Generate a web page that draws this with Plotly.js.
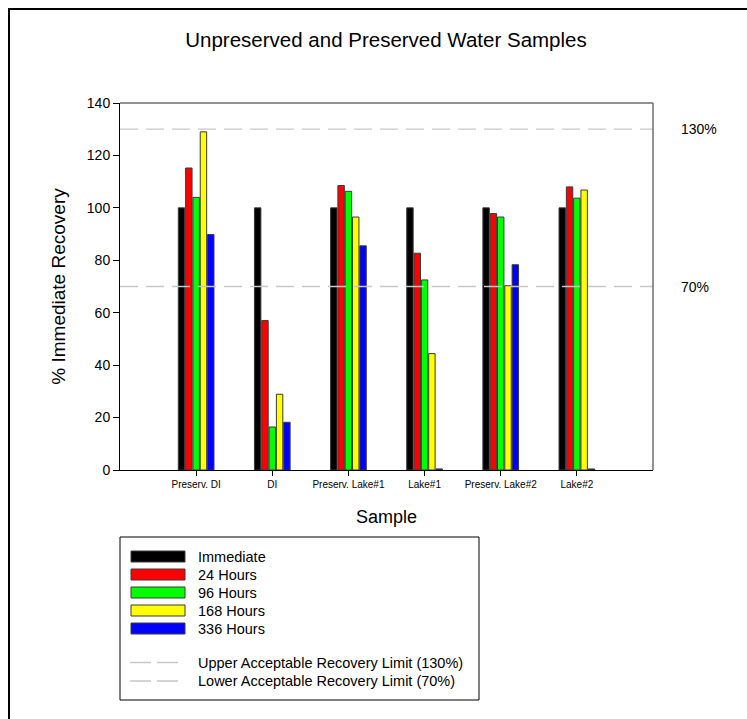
<!DOCTYPE html>
<html>
<head>
<meta charset="utf-8">
<script src="https://cdn.plot.ly/plotly-3.0.1.min.js"></script>
<style>
  html, body { margin: 0; padding: 0; background: #fff; }
  #wrap { position: relative; width: 747px; height: 719px; }
  #chart { width: 747px; height: 719px; }
  #frame { position: absolute; left: 8px; top: 8px; width: 760px; height: 720px;
           border-left: 2px solid #000; border-top: 2px solid #000; pointer-events: none; }
</style>
</head>
<body>
<div id="wrap">
  <div id="chart"></div>
  <div id="frame"></div>
</div>
<script>
// ---- data ----
const categories = ["Preserv. DI", "DI", "Preserv. Lake#1", "Lake#1", "Preserv. Lake#2", "Lake#2"];
const seriesNames = ["Immediate", "24 Hours", "96 Hours", "168 Hours", "336 Hours"];
const immediate = [100, 100, 100, 100, 100, 100];
const hours24   = [115.2, 57.0, 108.5, 82.7, 97.8, 108.0];
const hours96   = [104.0, 16.4, 106.3, 72.5, 96.5, 103.7];
const hours168  = [129.0, 28.9, 96.5, 44.4, 70.3, 106.8];
const hours336  = [89.8, 18.2, 85.5, 0.4, 78.3, 0.4];
const limitValues = [130, 70];
const limitLabels = ["130%", "70%"];
const limitNames = ["Upper Acceptable Recovery Limit (130%)", "Lower Acceptable Recovery Limit (70%)"];
const yTicks = [0, 20, 40, 60, 80, 100, 120, 140];

// ---- styles ----
const colors = ["#000000", "#ff0000", "#00ff00", "#ffff00", "#0000ff"];
const seriesValues = [immediate, hours24, hours96, hours168, hours336];
const FONT = "Liberation Sans, Arial, sans-serif";

// plot area in pixels
const W = 747, H = 719;
const L = 120, R = 653, T = 103, B = 470;
const px = x => (x - L) / (R - L);
const py = y => (B - y) / (B - T);

const traces = seriesNames.map((name, i) => ({
  type: "bar",
  name: name,
  x: categories,
  y: seriesValues[i],
  marker: { color: colors[i], line: { color: "#3a3a3a", width: 1 } },
  showlegend: false,
  hoverinfo: "x+y+name"
}));

const shapes = [];
const annotations = [];

// limit lines
limitValues.forEach((v, i) => {
  shapes.push({
    type: "line", xref: "paper", yref: "y", x0: 0, x1: 1, y0: v, y1: v,
    line: { color: "#c8c8c8", width: 1.3, dash: "18px,8px" }, layer: "above"
  });
  annotations.push({
    xref: "paper", yref: "y", x: px(679), y: v, xanchor: "left", yanchor: "middle",
    text: limitLabels[i], showarrow: false, font: { family: FONT, size: 14, color: "#000" }
  });
});

// top & right frame of the plot area (gray)
shapes.push({ type: "line", xref: "paper", yref: "paper", x0: 0, x1: 1, y0: 1, y1: 1,
  line: { color: "#6e6e6e", width: 1.5 } });
shapes.push({ type: "line", xref: "paper", yref: "paper", x0: 1, x1: 1, y0: 0, y1: 1,
  line: { color: "#6e6e6e", width: 1.5 } });

// manual legend
shapes.push({ type: "rect", xref: "paper", yref: "paper",
  x0: px(120), x1: px(479), y0: py(537), y1: py(700),
  line: { color: "#000", width: 1 }, fillcolor: "rgba(0,0,0,0)" });
seriesNames.forEach((name, i) => {
  const cy = 556.5 + i * 18;
  shapes.push({ type: "rect", xref: "paper", yref: "paper",
    x0: px(131), x1: px(185), y0: py(cy - 5.5), y1: py(cy + 5.5),
    fillcolor: colors[i], line: { color: "#3a3a3a", width: 1 } });
  annotations.push({ xref: "paper", yref: "paper", x: px(196), y: py(cy),
    xanchor: "left", yanchor: "middle", text: name, showarrow: false,
    font: { family: FONT, size: 14.5, color: "#000" } });
});
limitNames.forEach((name, i) => {
  const cy = 662.5 + i * 18.5;
  shapes.push({ type: "line", xref: "paper", yref: "paper",
    x0: px(130), x1: px(178), y0: py(cy), y1: py(cy),
    line: { color: "#c8c8c8", width: 1.3, dash: "21px,6px" } });
  annotations.push({ xref: "paper", yref: "paper", x: px(196), y: py(cy),
    xanchor: "left", yanchor: "middle", text: name, showarrow: false,
    font: { family: FONT, size: 14.5, color: "#000" } });
});

const layout = {
  width: W, height: H,
  margin: { l: L, r: W - R, t: T, b: H - B, pad: 0 },
  paper_bgcolor: "#fff", plot_bgcolor: "#fff",
  font: { family: FONT, color: "#000" },
  title: { text: "Unpreserved and Preserved Water Samples", x: px(386), xref: "paper",
    xanchor: "center", y: 1 - 40 / H, yanchor: "middle",
    font: { family: FONT, size: 20.5, color: "#000" } },
  barmode: "group", bargap: 0.52, bargroupgap: 0.12,
  showlegend: false,
  xaxis: {
    type: "category", range: [-1, 6], showgrid: false, zeroline: false,
    showline: true, linecolor: "#000", linewidth: 1,
    ticks: "outside", ticklen: 5, tickcolor: "#000",
    tickfont: { family: FONT, size: 10, color: "#000" },
    title: { text: "Sample", font: { family: FONT, size: 18, color: "#000" }, standoff: 21 },
    automargin: false, fixedrange: true
  },
  yaxis: {
    range: [0, 140], tickvals: yTicks, showgrid: false, zeroline: false,
    showline: true, linecolor: "#000", linewidth: 1,
    ticks: "outside", ticklen: 6, tickcolor: "#000",
    tickfont: { family: FONT, size: 14, color: "#000" },
    title: { text: "% Immediate Recovery", font: { family: FONT, size: 19, color: "#000" }, standoff: 16 },
    automargin: false, fixedrange: true
  },
  shapes: shapes,
  annotations: annotations
};

Plotly.newPlot("chart", traces, layout, { displayModeBar: false, staticPlot: true });
</script>
</body>
</html>
